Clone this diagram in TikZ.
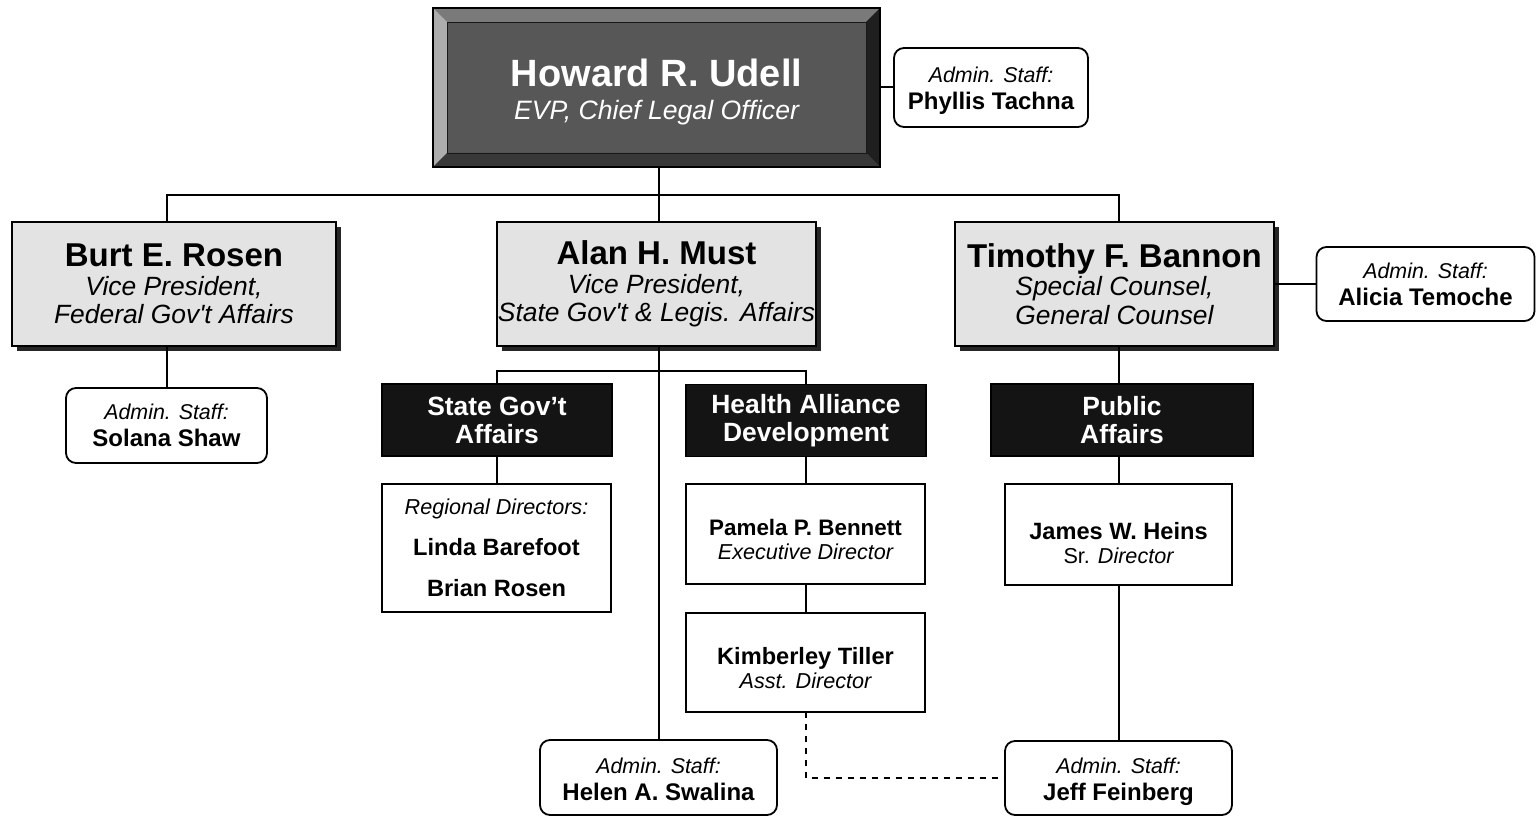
\documentclass[tikz,border=0pt]{standalone}
\usepackage{fontspec}
\setmainfont{Liberation Sans}
\usetikzlibrary{shadows}

\newcommand{\fsz}[2]{\fontsize{#1}{#2}\selectfont}
\newcommand{\lift}[1]{\rule{0pt}{#1}}

\tikzset{
  box/.style={draw, line width=0.75pt, inner sep=0pt, outer sep=0pt, align=center},
  chief/.style={box, fill=black!66, text=white, font=\fsz{13.3}{16.5},
    minimum width=223.5pt, minimum height=79.5pt,
    path picture={
      \path (path picture bounding box.north west) coordinate (bnw)
            (path picture bounding box.north east) coordinate (bne)
            (path picture bounding box.south west) coordinate (bsw)
            (path picture bounding box.south east) coordinate (bse);
      \fill[black!52] (bnw) -- (bne) -- ([shift={(-7pt,-7pt)}]bne) -- ([shift={(7pt,-7pt)}]bnw) -- cycle;
      \fill[black!32] (bnw) -- (bsw) -- ([shift={(7pt,7pt)}]bsw) -- ([shift={(7pt,-7pt)}]bnw) -- cycle;
      \fill[black!88] (bne) -- (bse) -- ([shift={(-7pt,7pt)}]bse) -- ([shift={(-7pt,-7pt)}]bne) -- cycle;
      \fill[black!78] (bsw) -- (bse) -- ([shift={(-7pt,7pt)}]bse) -- ([shift={(7pt,7pt)}]bsw) -- cycle;
      \draw[black!90, line width=0.4pt] ([shift={(7pt,-7pt)}]bnw) rectangle ([shift={(-7pt,7pt)}]bse);
    }},
  vp/.style={box, fill=black!11, font=\fsz{13.2}{14.3},
    drop shadow={shadow xshift=2.5pt, shadow yshift=-2.5pt, fill=black!85, opacity=1},
    minimum height=62pt},
  dept/.style={box, fill=black!92, text=white, font=\bfseries\fsz{13.2}{14}, minimum height=36pt},
  staff/.style={box, rounded corners=5pt, line width=0.9pt, fill=white, font=\fsz{10.7}{13.5}},
  person/.style={box, fill=white, font=\fsz{10.8}{12}},
  link/.style={line width=1pt},
}

\begin{document}
\begin{tikzpicture}[x=0.5pt, y=-0.5pt]
  \useasboundingbox (0,0) rectangle (1536,817);

  % top
  \node[chief] (udell) at (656.5,87.5) {{\lift{18pt}\fsz{19}{19}\bfseries Howard R. Udell}\\{\itshape EVP, Chief Legal Officer}};
  \node[staff, minimum width=97pt, minimum height=39.5pt] (tachna) at (991,87.5) {{\lift{10.5pt}\itshape Admin. Staff:}\\{\bfseries\fsz{12}{13.5}Phyllis Tachna}};

  % vice presidents
  \node[vp, minimum width=162pt] (rosen) at (174,284) {{\fsz{16.5}{16.5}\bfseries Burt E. Rosen}\\{\itshape Vice President,}\\{\itshape Federal Gov\textquotesingle t Affairs}};
  \node[vp, minimum width=159.5pt] (must) at (656.5,284) {{\fsz{16.5}{16.5}\bfseries Alan H. Must}\\{\itshape Vice President,}\\{\itshape State Gov\textquotesingle t \& Legis. Affairs}};
  \node[vp, minimum width=159.5pt] (bannon) at (1114.5,284) {{\fsz{16.5}{16.5}\bfseries Timothy F. Bannon}\\{\itshape Special Counsel,}\\{\itshape General Counsel}};
  \node[staff, minimum width=109pt, minimum height=37pt] (temoche) at (1425.5,284) {{\itshape Admin. Staff:}\\{\bfseries\fsz{12}{13.5}Alicia Temoche}};
  \node[staff, minimum width=100.5pt, minimum height=37.5pt] (shaw) at (166.5,425.5) {{\itshape Admin. Staff:}\\{\bfseries\fsz{12}{13.5}Solana Shaw}};

  % departments
  \node[dept, minimum width=115pt] (stategov) at (497,420) {State Gov’t\\Affairs};
  \node[dept, minimum width=120pt] (health) at (806,420.5) {Health Alliance\\Development};
  \node[dept, minimum width=131pt] (public) at (1122,420) {Public\\Affairs};

  \node[person, font=\fsz{10.8}{20.5}, minimum width=114.5pt, minimum height=64pt] (regional) at (496.5,548) {{\itshape Regional Directors:}\\{\bfseries\fsz{11.8}{20.5}Linda Barefoot}\\{\bfseries\fsz{11.8}{20.5}Brian Rosen}};
  \node[person, minimum width=119.5pt, minimum height=50pt] (bennett) at (805.5,534) {{\lift{13.2pt}\bfseries\fsz{11.2}{12}Pamela P. Bennett}\\{\itshape Executive Director}};
  \node[person, minimum width=119.5pt, minimum height=49.5pt] (tiller) at (805.5,662.5) {{\lift{14.6pt}\bfseries\fsz{11.8}{12}Kimberley Tiller}\\{\itshape Asst. Director}};
  \node[person, minimum width=113.5pt, minimum height=50.5pt] (heins) at (1118.5,534.5) {{\lift{17.6pt}\bfseries\fsz{11.8}{12.5}James W. Heins}\\Sr. {\itshape Director}};

  \node[staff, minimum width=118.5pt, minimum height=37.5pt] (swalina) at (658.5,777.5) {{\lift{9.5pt}\itshape Admin. Staff:}\\{\bfseries\fsz{12}{13.5}Helen A. Swalina}};
  \node[staff, minimum width=113.5pt, minimum height=37pt] (feinberg) at (1118.5,778) {{\lift{12pt}\itshape Admin. Staff:}\\{\bfseries\fsz{12}{13.5}Jeff Feinberg}};

  % lines
  \draw[link] (udell.east) -- (tachna.west);
  \draw[link] (udell.south -| swalina) -- (must.north -| swalina);
  \draw[link] (rosen.north -| shaw) -- ++(0,-27) -| (bannon.north -| heins);
  \draw[link] (bannon.east) -- (temoche.west);
  \draw[link] (shaw.north) -- (shaw.north |- rosen.south);
  \draw[link] (swalina.north) -- (swalina.north |- must.south);
  \draw[link] (stategov.north) -- ++(0,-13) -| (health.north);
  \draw[link] (stategov.south) -- (stategov.south |- regional.north);
  \draw[link] (health.south -| bennett) -- (bennett.north);
  \draw[link] (bennett.south) -- (tiller.north);
  \draw[link] (bannon.south -| heins) -- (public.north -| heins);
  \draw[link] (public.south -| heins) -- (heins.north);
  \draw[link] (heins.south) -- (feinberg.north);
  \draw[link, dashed] (tiller.south) |- (feinberg.west);  %dotted line
\end{tikzpicture}
\end{document}
